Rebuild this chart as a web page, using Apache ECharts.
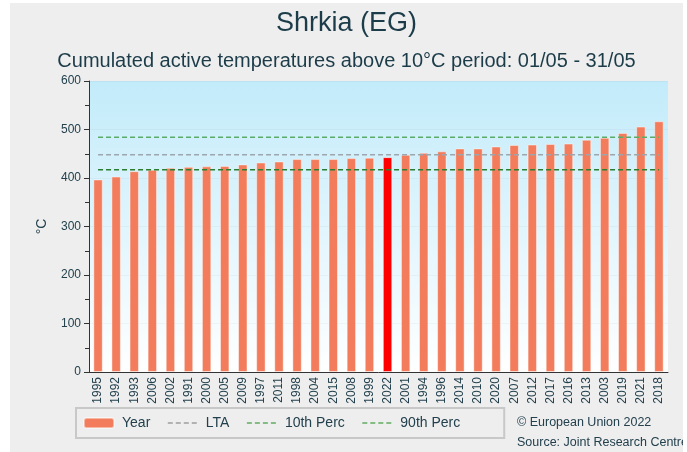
<!DOCTYPE html>
<html>
<head>
<meta charset="utf-8">
<script src="https://cdn.jsdelivr.net/npm/echarts@6/dist/echarts.min.js"></script>
<style>
  html, body { margin: 0; padding: 0; background: #ffffff; }
  #chart { position: absolute; left: 10px; top: 3px; width: 673px; height: 449px; }
</style>
</head>
<body>
<div id="chart"></div>
<script>
const years = ["1995", "1992", "1993", "2006", "2002", "1991", "2000", "2005", "2009", "1997", "2011", "1998", "2004", "2015", "2008", "1999",
  "2022", "2001", "1994", "1996", "2014", "2010", "2020", "2007", "2012", "2017", "2016", "2013", "2003", "2019", "2021", "2018"];
const values = [397, 403, 414, 417, 421, 423, 424, 425, 428, 432, 434, 439, 439, 439, 441, 442,
  443, 448, 452, 455, 461, 461, 465, 468, 469, 470, 471, 479, 483, 493, 506, 517];
const highlightYear = "2022";
const lta = 448;
const perc10 = 417;
const perc90 = 484;

const textColor = "#23404d";
const chart = echarts.init(document.getElementById("chart"));

const legendLine = (color) => ({
  itemStyle: { opacity: 0 },
  lineStyle: { color: color, width: 1, type: [5, 3] }
});

const option = {
  backgroundColor: "#eeeeee",
  animation: false,
  textStyle: { fontFamily: "Liberation Sans, Arial, sans-serif" },
  title: [
    {
      text: "Shrkia (EG)",
      left: "center",
      top: 2,
      textStyle: { fontSize: 27, fontWeight: "normal", color: "#1c3c49" }
    },
    {
      text: "Cumulated active temperatures above 10°C period: 01/05 - 31/05",
      left: "center",
      top: 43,
      textStyle: { fontSize: 20, fontWeight: "normal", color: "#1c3c49" }
    }
  ],
  legend: {
    left: 66,
    top: 405,
    padding: [8, 44, 8, 7],
    itemGap: 17,
    itemWidth: 30,
    itemHeight: 10,
    borderColor: "#c8c8c8",
    borderWidth: 2,
    textStyle: { fontSize: 14, color: textColor, padding: [0, 0, 0, 3] },
    data: [
      { name: "Year" },
      Object.assign({ name: "LTA" }, legendLine("#777777")),
      Object.assign({ name: "10th Perc" }, legendLine("#1a8a1a")),
      Object.assign({ name: "90th Perc" }, legendLine("#1a8a1a"))
    ]
  },
  grid: {
    left: 79,
    right: 15,
    top: 78,
    bottom: 80,
    show: true,
    borderWidth: 0,
    backgroundColor: new echarts.graphic.LinearGradient(0, 0, 0, 1, [
      { offset: 0, color: "#c2ebfa" },
      { offset: 1, color: "#ffffff" }
    ])
  },
  xAxis: {
    type: "category",
    data: years,
    axisLine: { lineStyle: { color: "#333333", width: 1 } },
    axisTick: { alignWithLabel: true, length: 4, lineStyle: { color: "#333333" } },
    axisLabel: { rotate: 90, fontSize: 12, color: textColor, margin: 5 }
  },
  yAxis: {
    type: "value",
    min: 0,
    max: 600,
    interval: 100,
    name: "°C",
    nameLocation: "middle",
    nameGap: 40,
    nameRotate: 90,
    nameTextStyle: { fontSize: 14, color: textColor },
    axisLine: { show: true, lineStyle: { color: "#333333" } },
    axisTick: { show: true, length: 5, lineStyle: { color: "#333333" } },
    minorTick: { show: true, splitNumber: 2, length: 4, lineStyle: { color: "#333333" } },
    axisLabel: { fontSize: 12, color: textColor, margin: 8 },
    splitLine: { show: true, lineStyle: { color: "rgba(0,0,0,0.03)" } }
  },
  series: [
    {
      name: "Year",
      type: "bar",
      barWidth: "52%",
      itemStyle: { color: "#f27c5b", borderColor: "rgba(255,255,255,0.45)", borderWidth: 1 },
      data: values.map((v, i) => years[i] === highlightYear
        ? { value: v, itemStyle: { color: "#ff0000" } }
        : v)
    },
    {
      name: "LTA",
      type: "line",
      symbol: "none",
      lineStyle: { color: "#9ea6ad", width: 1.5, type: [5, 3] },
      data: years.map(() => lta)
    },
    {
      name: "10th Perc",
      type: "line",
      symbol: "none",
      lineStyle: { color: "#2a7d30", width: 1.5, type: [5, 3] },
      data: years.map(() => perc10)
    },
    {
      name: "90th Perc",
      type: "line",
      symbol: "none",
      lineStyle: { color: "#5aab68", width: 1.5, type: [5, 3] },
      data: years.map(() => perc90)
    }
  ],
  graphic: [
    {
      type: "text",
      left: 507,
      top: 413,
      style: { text: "© European Union 2022", fontSize: 12.5, fill: textColor }
    },
    {
      type: "text",
      left: 507,
      top: 433,
      style: { text: "Source: Joint Research Centre", fontSize: 12.5, fill: textColor }
    }
  ]
};

chart.setOption(option);
</script>
</body>
</html>
